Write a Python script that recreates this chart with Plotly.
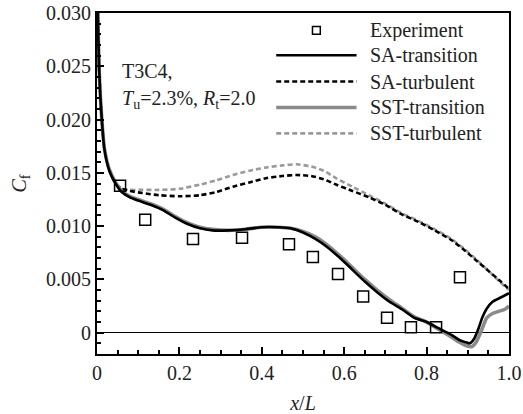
import plotly.graph_objects as go

# Skin-friction coefficient along the T3C4 plate
x_exp = [0.056, 0.117, 0.233, 0.352, 0.466, 0.524, 0.585, 0.646, 0.704, 0.762, 0.823, 0.881]
cf_exp = [0.0138, 0.0106, 0.0088, 0.0089, 0.0083, 0.0071, 0.0055, 0.0034, 0.0014, 0.0005, 0.0005, 0.0052]

x_sa_tr = [0.0, 0.002, 0.005, 0.01, 0.018, 0.03, 0.045, 0.06, 0.08, 0.10, 0.13, 0.16, 0.19, 0.22,
           0.25, 0.28, 0.32, 0.36, 0.40, 0.44, 0.47, 0.50, 0.53, 0.56, 0.59, 0.62, 0.65, 0.68,
           0.71, 0.74, 0.77, 0.80, 0.83, 0.86, 0.88, 0.895, 0.905, 0.915, 0.925, 0.935, 0.945,
           0.96, 0.98, 1.0]
cf_sa_tr = [0.040, 0.030, 0.025, 0.021, 0.0172, 0.0152, 0.0140, 0.0132, 0.0127, 0.0124, 0.0120,
            0.0115, 0.0108, 0.0102, 0.0098, 0.0096, 0.0096, 0.0097, 0.0099, 0.0099, 0.0098,
            0.0094, 0.0088, 0.0080, 0.0070, 0.0059, 0.0048, 0.0038, 0.0029, 0.0022, 0.0014,
            0.0010, 0.0004, -0.0002, -0.0007, -0.0009, -0.0010, -0.0006, 0.0003, 0.0014,
            0.0022, 0.0029, 0.0033, 0.0037]

x_sst_tr = [0.0, 0.002, 0.005, 0.01, 0.018, 0.03, 0.045, 0.06, 0.08, 0.10, 0.13, 0.16, 0.19, 0.22,
            0.25, 0.28, 0.32, 0.36, 0.40, 0.44, 0.47, 0.50, 0.53, 0.56, 0.59, 0.62, 0.65, 0.68,
            0.71, 0.74, 0.77, 0.80, 0.83, 0.86, 0.88, 0.895, 0.91, 0.92, 0.934, 0.946, 0.96,
            0.975, 0.99, 1.0]
cf_sst_tr = [0.040, 0.030, 0.025, 0.021, 0.0173, 0.0153, 0.0141, 0.0133, 0.0128, 0.0125, 0.0121,
             0.0116, 0.0109, 0.0103, 0.0099, 0.0097, 0.0096, 0.0097, 0.0099, 0.0099, 0.0098,
             0.0095, 0.0090, 0.0082, 0.0072, 0.0061, 0.0050, 0.0040, 0.0031, 0.0023, 0.0015,
             0.0010, 0.0003, -0.0004, -0.0009, -0.0012, -0.0013, -0.0009, 0.0003, 0.0014,
             0.0018, 0.0020, 0.0022, 0.0025]

x_turb = [0.0, 0.002, 0.005, 0.01, 0.018, 0.03, 0.045, 0.06, 0.08, 0.11, 0.15, 0.2, 0.25, 0.29,
          0.33, 0.37, 0.41, 0.45, 0.485, 0.52, 0.55, 0.58, 0.62, 0.66, 0.70, 0.74, 0.78, 0.82,
          0.86, 0.89, 0.92, 0.95, 0.98, 1.0]
cf_sa_turb = [0.040, 0.030, 0.025, 0.021, 0.0172, 0.0152, 0.0140, 0.0135, 0.0133, 0.0131, 0.0129,
              0.0128, 0.0129, 0.0132, 0.0137, 0.0141, 0.0145, 0.0147, 0.0148, 0.0147, 0.0144,
              0.0139, 0.0133, 0.0127, 0.0120, 0.0111, 0.0104, 0.0096, 0.0087, 0.0078, 0.0068,
              0.0058, 0.0048, 0.0041]
cf_sst_turb = [0.040, 0.030, 0.025, 0.021, 0.0173, 0.0153, 0.0141, 0.0135, 0.0134, 0.0134, 0.0134,
               0.0135, 0.0139, 0.0143, 0.0148, 0.0152, 0.0155, 0.0157, 0.0158, 0.0156, 0.0152,
               0.0145, 0.0137, 0.0129, 0.0121, 0.0112, 0.0105, 0.0097, 0.0088, 0.0079, 0.0069,
               0.0058, 0.0047, 0.0040]

names = ["Experiment", "SA-transition", "SA-turbulent", "SST-transition", "SST-turbulent"]
colors = ["black", "black", "black", "#8a8a8a", "#9a9a9a"]
widths = [None, 2.6, 2.6, 3.6, 2.6]
dashes = [None, "solid", "5px,3px", "solid", "5px,3px"]

SERIF = "Liberation Serif, Times New Roman, serif"
TXT = "#222222"

fig = go.Figure()

# Curves: dashed turbulent runs underneath, transition runs above
for xs, ys, i in [(x_turb, cf_sst_turb, 4), (x_turb, cf_sa_turb, 2),
                  (x_sst_tr, cf_sst_tr, 3), (x_sa_tr, cf_sa_tr, 1)]:
    fig.add_trace(go.Scatter(
        x=xs, y=ys, mode="lines", name=names[i], showlegend=False,
        line=dict(color=colors[i], width=widths[i], dash=dashes[i], shape="spline", smoothing=0.6),
    ))

fig.add_trace(go.Scatter(
    x=x_exp, y=cf_exp, mode="markers", name=names[0], showlegend=False,
    marker=dict(symbol="square-open", size=11, color="black", line=dict(width=1.5)),
))

# Hand-drawn key in the upper right corner
x0, x1, xt = 0.435, 0.63, 0.658
row_y = [0.949, 0.876, 0.799, 0.723, 0.647]
for i, ry in enumerate(row_y):
    if i == 0:
        fig.add_shape(type="rect", xref="paper", yref="paper",
                      x0=(x0 + x1) / 2 - 0.0095, x1=(x0 + x1) / 2 + 0.0095,
                      y0=ry - 0.0115, y1=ry + 0.0115,
                      line=dict(color="black", width=1.5))
    else:
        fig.add_shape(type="line", xref="paper", yref="paper",
                      x0=x0, x1=x1, y0=ry, y1=ry,
                      line=dict(color=colors[i], width=widths[i], dash=dashes[i]))
    fig.add_annotation(x=xt, y=ry, xref="paper", yref="paper", text=names[i],
                       showarrow=False, xanchor="left", yanchor="middle", height=22,
                       font=dict(family=SERIF, size=20, color=TXT))

# Case label, two lines
fig.add_annotation(x=0.055, y=0.791, xref="paper", yref="paper", text="T3C4,",
                   showarrow=False, xanchor="left", yanchor="bottom",
                   font=dict(family=SERIF, size=20, color=TXT))
fig.add_annotation(x=0.055, y=0.789, xref="paper", yref="paper",
                   text="<i>T</i><sub>u</sub>=2.3%, <i>R</i><sub>t</sub>=2.0",
                   showarrow=False, xanchor="left", yanchor="top",
                   font=dict(family=SERIF, size=20, color=TXT))

axis_common = dict(
    showline=True, linecolor="black", linewidth=2, mirror=True, automargin=False,
    showgrid=False, ticks="inside", tickcolor="black", tickwidth=1.5, ticklen=7,
    tickfont=dict(family=SERIF, size=20, color=TXT),
)

fig.update_xaxes(
    range=[0, 1.0], tickvals=[0, 0.2, 0.4, 0.6, 0.8, 1.0],
    ticktext=["0", "0.2", "0.4", "0.6", "0.8", "1.0"],
    minor=dict(dtick=0.05, tick0=0, ticks="inside", ticklen=4, tickcolor="black", tickwidth=1.5),
    zeroline=False,
    title=dict(text="<i>x</i>/<i>L</i>", font=dict(family=SERIF, size=20, color=TXT), standoff=16),
    **axis_common,
)
fig.update_yaxes(
    range=[-0.002, 0.030], tickvals=[0, 0.005, 0.010, 0.015, 0.020, 0.025, 0.030],
    ticktext=["0", "0.005", "0.010", "0.015", "0.020", "0.025", "0.030"],
    minor=dict(dtick=0.001, tick0=0, ticks="inside", ticklen=4, tickcolor="black", tickwidth=1.5),
    zeroline=True, zerolinecolor="black", zerolinewidth=1.2,
    title=dict(text="<i>C</i><sub>f</sub>", font=dict(family=SERIF, size=20, color=TXT), standoff=14),
    **axis_common,
)

fig.update_layout(
    width=523, height=414,
    margin=dict(l=97, r=14, t=13, b=60),
    paper_bgcolor="white", plot_bgcolor="white",
    showlegend=False,
)

fig.write_html("out.html")
